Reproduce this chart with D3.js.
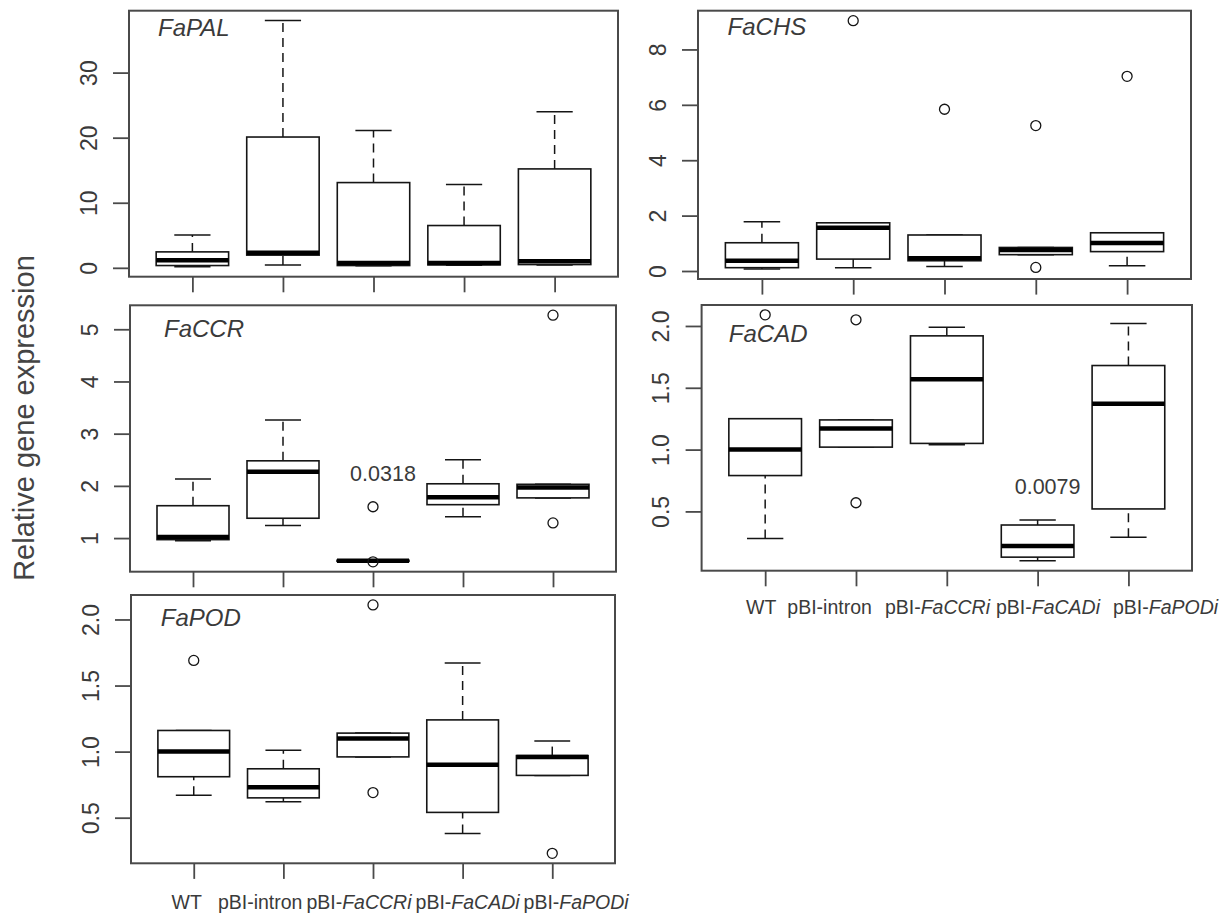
<!DOCTYPE html>
<html>
<head>
<meta charset="utf-8">
<script src="https://cdn.jsdelivr.net/npm/d3@7"></script>
<style>
  body { margin: 0; background: #fff; }
  svg { display: block; }
  text { font-family: "Liberation Sans", Arial, Helvetica, sans-serif; }
</style>
</head>
<body>
<svg id="chart" width="1225" height="913"></svg>
<script>
// Constructs compared in every panel
const categories = ["WT", "pBI-intron", "pBI-FaCCRi", "pBI-FaCADi", "pBI-FaPODi"];
const genes = ["FaPAL", "FaCHS", "FaCCR", "FaCAD", "FaPOD"];

// Box statistics per construct: [lower whisker, Q1, median, Q3, upper whisker]
const palStats = [[0.15, 0.35, 1.15, 2.45, 5.05], [0.45, 1.95, 2.3, 20.1, 38.0], [0.3, 0.35, 0.75, 13.1, 21.1], [0.4, 0.45, 0.75, 6.5, 12.8], [0.45, 0.5, 1.0, 15.2, 24.0]];
const palOutliers = [[], [], [], [], []];
const chsStats = [[0.07, 0.12, 0.37, 1.02, 1.78], [0.12, 0.43, 1.56, 1.74, 1.74], [0.16, 0.37, 0.46, 1.3, 1.3], [0.59, 0.59, 0.76, 0.85, 0.85], [0.19, 0.70, 1.01, 1.38, 1.38]];
const chsOutliers = [[], [9.04], [5.84], [0.13, 5.25], [7.03]];
const ccrStats = [[0.95, 0.97, 1.02, 1.62, 2.13], [1.24, 1.38, 2.27, 2.48, 3.26], [0.555, 0.555, 0.565, 0.575, 0.575], [1.41, 1.64, 1.78, 2.04, 2.5], [1.77, 1.77, 1.97, 2.03, 2.03]];
const ccrOutliers = [[], [], [0.545, 1.6], [], [1.29, 5.27]];
const cadStats = [[0.28, 0.79, 1.0, 1.25, 1.25], [1.02, 1.02, 1.17, 1.24, 1.24], [1.04, 1.05, 1.57, 1.92, 1.99], [0.10, 0.13, 0.22, 0.39, 0.43], [0.29, 0.52, 1.37, 1.68, 2.02]];
const cadOutliers = [[2.09], [2.05, 0.57], [], [], []];
const podStats = [[0.67, 0.81, 1.0, 1.16, 1.16], [0.62, 0.65, 0.73, 0.87, 1.01], [0.96, 0.96, 1.10, 1.14, 1.14], [0.38, 0.54, 0.90, 1.24, 1.67], [0.82, 0.82, 0.96, 0.97, 1.08]];
const podOutliers = [[1.69], [], [2.11, 0.69], [], [0.23]];

// Y tick values and labels
const palTicks = [0, 10, 20, 30];
const chsTicks = [0, 2, 4, 6, 8];
const ccrTicks = [1, 2, 3, 4, 5];
const cadTicks = [0.5, 1.0, 1.5, 2.0];
const podTicks = [0.5, 1.0, 1.5, 2.0];
const palTickLabels = ["0", "10", "20", "30"];
const chsTickLabels = ["0", "2", "4", "6", "8"];
const ccrTickLabels = ["1", "2", "3", "4", "5"];
const cadTickLabels = ["0.5", "1.0", "1.5", "2.0"];
const podTickLabels = ["0.5", "1.0", "1.5", "2.0"];

// P-value notes: gene, construct index, height (data units), text
const noteGenes = ["FaCCR", "FaCAD"];
const noteGroups = [2, 3];
const noteValues = [2.09, 0.64];
const noteTexts = ["0.0318", "0.0079"];

const yTitle = "Relative gene expression";

// Panel layout
const panels = [
  { gene: genes[0], stats: palStats, outliers: palOutliers, ticks: palTicks, tickLabels: palTickLabels,
    x0: 129, x1: 618, y0: 10.7, y1: 276.7, tdx: 1.5, tdy: 25.3, labels: false },
  { gene: genes[1], stats: chsStats, outliers: chsOutliers, ticks: chsTicks, tickLabels: chsTickLabels,
    x0: 698, x1: 1191, y0: 10.7, y1: 279, tdx: 5, tdy: 24.3, labels: false },
  { gene: genes[2], stats: ccrStats, outliers: ccrOutliers, ticks: ccrTicks, tickLabels: ccrTickLabels,
    x0: 130, x1: 616, y0: 305.3, y1: 571.7, tdx: 11, tdy: 31.4, labels: false },
  { gene: genes[3], stats: cadStats, outliers: cadOutliers, ticks: cadTicks, tickLabels: cadTickLabels,
    x0: 701.6, x1: 1192, y0: 305, y1: 570.7, tdx: 3, tdy: 36.7, labels: true,
    labelBase: 614, firstShift: -4, gaps: [11, 13, 6, 13] },
  { gene: genes[4], stats: podStats, outliers: podOutliers, ticks: podTicks, tickLabels: podTickLabels,
    x0: 131, x1: 615, y0: 595, y1: 863.3, tdx: 7, tdy: 30.7, labels: true,
    labelBase: 909, firstShift: -7, gaps: [16, 4, 4, 4] }
];

const frameColor = "#4a4a4a";
const boxColor = "#151515";
const textColor = "#3a3a3a";

const svg = d3.select("#chart");

panels.forEach(p => {
  const g = svg.append("g");

  const x = d3.scalePoint().domain(categories).range([p.x0, p.x1]).padding(0.7);
  const all = p.stats.flat().concat(p.outliers.flat());
  const lo = d3.min(all), hi = d3.max(all), pad = (hi - lo) * 0.04;
  const y = d3.scaleLinear().domain([lo - pad, hi + pad]).range([p.y1, p.y0]);
  const bw = x.step() * 0.8;

  // frame
  g.append("rect")
    .attr("x", p.x0).attr("y", p.y0)
    .attr("width", p.x1 - p.x0).attr("height", p.y1 - p.y0)
    .attr("fill", "none").attr("stroke", frameColor).attr("stroke-width", 2);

  // left axis
  const yAxis = d3.axisLeft(y).tickValues(p.ticks).tickSize(16)
    .tickFormat((d, i) => p.tickLabels[i]);
  const ya = g.append("g").attr("transform", `translate(${p.x0},0)`).call(yAxis);
  ya.select(".domain").remove();
  ya.selectAll(".tick line").attr("stroke", frameColor).attr("stroke-width", 1.8);
  ya.selectAll(".tick text")
    .attr("x", 0).attr("dy", 0)
    .attr("transform", "translate(-32.5,0) rotate(-90)")
    .attr("text-anchor", "middle")
    .attr("fill", textColor)
    .style("font-size", "23px");

  // bottom ticks
  const xAxis = d3.axisBottom(x).tickSize(15.6).tickFormat("");
  const xa = g.append("g").attr("transform", `translate(0,${p.y1})`).call(xAxis);
  xa.select(".domain").remove();
  xa.selectAll(".tick line").attr("stroke", frameColor).attr("stroke-width", 1.8);

  // boxes
  const groups = g.selectAll("g.box").data(p.stats).join("g").attr("class", "box");
  groups.each(function (s, i) {
    const bx = d3.select(this);
    const cx = x(categories[i]);
    const [wlo, q1, med, q3, whi] = s;
    // whiskers
    [[q3, whi], [wlo, q1]].forEach(([a, b]) => {
      if (Math.abs(b - a) > 1e-9) {
        bx.append("line").attr("x1", cx).attr("x2", cx)
          .attr("y1", y(a)).attr("y2", y(b))
          .attr("stroke", boxColor).attr("stroke-width", 1.5)
          .attr("stroke-dasharray", "9,6");
      }
    });
    // staples
    [wlo, whi].forEach(v => {
      bx.append("line").attr("x1", cx - bw / 4).attr("x2", cx + bw / 4)
        .attr("y1", y(v)).attr("y2", y(v))
        .attr("stroke", boxColor).attr("stroke-width", 1.5);
    });
    // box
    bx.append("rect").attr("x", cx - bw / 2).attr("width", bw)
      .attr("y", y(q3)).attr("height", Math.max(0, y(q1) - y(q3)))
      .attr("fill", "#fff").attr("stroke", boxColor).attr("stroke-width", 1.6);
    // median
    bx.append("line").attr("x1", cx - bw / 2).attr("x2", cx + bw / 2)
      .attr("y1", y(med)).attr("y2", y(med))
      .attr("stroke", "#000").attr("stroke-width", 4.5);
    // outliers
    bx.selectAll("circle").data(p.outliers[i]).join("circle")
      .attr("cx", cx).attr("cy", d => y(d)).attr("r", 5)
      .attr("fill", "none").attr("stroke", boxColor).attr("stroke-width", 1.3);
  });

  // gene name
  g.append("text")
    .attr("x", x(categories[0]) + p.tdx).attr("y", p.y0 + p.tdy)
    .attr("text-anchor", "middle")
    .attr("fill", textColor)
    .style("font-size", "24px").style("font-style", "italic")
    .text(p.gene);

  // p-value notes
  noteGenes.forEach((ng, k) => {
    if (ng !== p.gene) return;
    g.append("text")
      .attr("x", x(categories[noteGroups[k]]) + 10).attr("y", y(noteValues[k]))
      .attr("text-anchor", "middle").attr("fill", textColor)
      .style("font-size", "21.5px")
      .text(noteTexts[k]);
  });

  // construct labels, laid out left to right
  if (p.labels) {
    const texts = categories.map(c => {
      const t = g.append("text").attr("y", p.labelBase).attr("fill", textColor)
        .style("font-size", "19.5px");
      if (c.startsWith("pBI-Fa")) {
        t.append("tspan").text("pBI-");
        t.append("tspan").style("font-style", "italic").text(c.slice(4));
      } else {
        t.text(c);
      }
      return t;
    });
    let cursor = null;
    texts.forEach((t, i) => {
      const w = t.node().getComputedTextLength();
      let start;
      if (i === 0) start = x(categories[0]) + p.firstShift - w / 2;
      else start = cursor + p.gaps[i - 1];
      t.attr("x", start);
      cursor = start + w;
    });
  }
});

// shared y title
svg.append("text")
  .attr("transform", "translate(33.5,418) rotate(-90)")
  .attr("text-anchor", "middle")
  .attr("fill", "#444")
  .style("font-size", "29px")
  .text(yTitle);
</script>
</body>
</html>
